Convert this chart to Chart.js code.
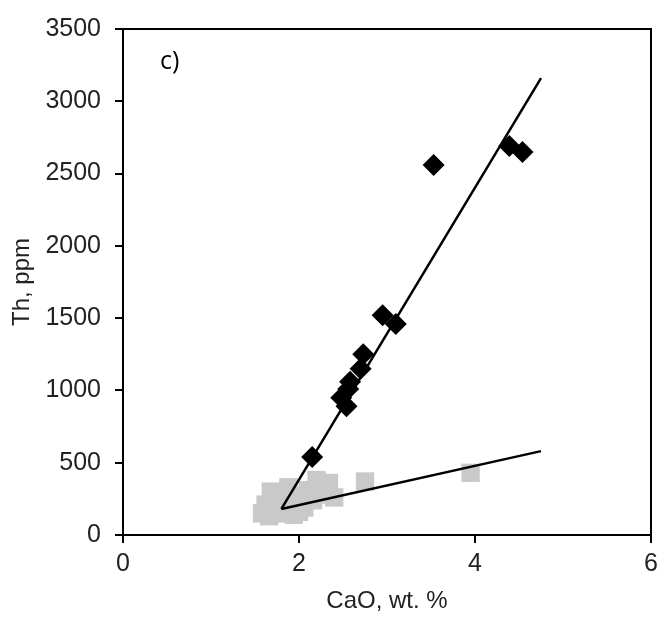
<!DOCTYPE html>
<html>
<head>
<meta charset="utf-8">
<script src="https://cdn.jsdelivr.net/npm/chart.js@4/dist/chart.umd.min.js"></script>
<style>
  html, body { margin: 0; padding: 0; background: #fff; }
  #wrap { width: 664px; height: 620px; }
</style>
</head>
<body>
<div id="wrap"><canvas id="thChart" width="664" height="620"></canvas></div>
<script>
// black diamonds
const blackCaO = [2.15, 2.48, 2.54, 2.56, 2.58, 2.70, 2.73, 2.95, 3.10, 3.53, 4.39, 4.54];
const blackTh  = [540, 950, 890, 1010, 1060, 1150, 1250, 1520, 1460, 2560, 2690, 2650];

// grey squares
const greyCaO = [1.58, 1.62, 1.66, 1.70, 1.72, 1.76, 1.80, 1.82, 1.86, 1.90, 1.94, 1.98, 2.02, 2.06, 2.10, 2.16, 2.22, 2.28, 2.34, 2.40, 1.68, 1.88, 2.00, 2.20, 2.34, 2.75, 3.95];
const greyTh   = [150, 210, 130, 180, 240, 150, 200, 290, 170, 250, 140, 210, 270, 190, 310, 240, 340, 300, 280, 260, 300, 330, 160, 380, 360, 370, 430];

// fitted lines
const steepLine = [[1.80, 180], [4.75, 3160]];
const flatLine  = [[1.80, 180], [4.75, 580]];

const xTicks = [0, 2, 4, 6];
const yTicks = [0, 500, 1000, 1500, 2000, 2500, 3000, 3500];

const toPoints = (xs, ys) => xs.map((x, i) => ({ x: x, y: ys[i] }));
const linePoints = arr => arr.map(p => ({ x: p[0], y: p[1] }));

const font = "'Liberation Sans', Arial, sans-serif";

const boxPlugin = {
  id: 'box',
  afterDraw(chart) {
    const a = chart.chartArea;
    const c = chart.ctx;
    c.save();
    c.strokeStyle = '#000';
    c.lineWidth = 2;
    c.strokeRect(a.left, a.top, a.right - a.left, a.bottom - a.top);
    // panel label
    c.fillStyle = '#000';
    c.font = "25px 'Open Sans', sans-serif";
    c.textBaseline = 'middle';
    c.fillText('c)', chart.scales.x.getPixelForValue(0.42), chart.scales.y.getPixelForValue(3275));
    c.restore();
  }
};

new Chart(document.getElementById('thChart').getContext('2d'), {
  type: 'scatter',
  data: {
    datasets: [
      {
        label: 'High',
        data: toPoints(blackCaO, blackTh),
        pointStyle: 'rectRot',
        pointRadius: 11,
        backgroundColor: '#000',
        borderColor: '#000',
        borderWidth: 0,
        order: 0
      },
      {
        label: 'steep',
        data: linePoints(steepLine),
        showLine: true,
        pointRadius: 0,
        borderColor: '#000',
        borderWidth: 2.5,
        order: 1
      },
      {
        label: 'flat',
        data: linePoints(flatLine),
        showLine: true,
        pointRadius: 0,
        borderColor: '#000',
        borderWidth: 2.5,
        order: 1
      },
      {
        label: 'Low',
        data: toPoints(greyCaO, greyTh),
        pointStyle: 'rect',
        pointRadius: 13,
        backgroundColor: '#c9c9c9',
        borderWidth: 0,
        order: 2
      }
    ]
  },
  options: {
    responsive: false,
    animation: false,
    layout: { padding: { top: 25, right: 6, left: 0, bottom: 0 } },
    plugins: {
      legend: { display: false },
      tooltip: { enabled: false }
    },
    scales: {
      x: {
        type: 'linear',
        min: 0, max: 6,
        afterBuildTicks: s => { s.ticks = xTicks.map(v => ({ value: v })); },
        afterFit: s => { s.height = 85; s.paddingRight = 0; },
        grid: { display: true, drawOnChartArea: false, drawTicks: true, tickLength: 8, color: '#000', lineWidth: 2 },
        border: { display: true, color: '#000', width: 2 },
        ticks: { color: '#222', font: { family: font, size: 25 }, padding: 6, callback: v => String(v) },
        title: { display: true, text: 'CaO, wt. %', color: '#222', font: { family: font, size: 24 }, padding: { top: 6 } }
      },
      y: {
        type: 'linear',
        min: 0, max: 3500,
        afterBuildTicks: s => { s.ticks = yTicks.map(v => ({ value: v })); },
        afterFit: s => { s.width = 123; },
        grid: { display: true, drawOnChartArea: false, drawTicks: true, tickLength: 8, color: '#000', lineWidth: 2 },
        border: { display: true, color: '#000', width: 2 },
        ticks: { color: '#222', font: { family: font, size: 25 }, padding: 14, callback: v => String(v) },
        title: { display: true, text: 'Th, ppm', color: '#222', font: { family: font, size: 24 }, padding: { top: 8, bottom: 0 } }
      }
    }
  },
  plugins: [boxPlugin]
});
</script>
</body>
</html>
